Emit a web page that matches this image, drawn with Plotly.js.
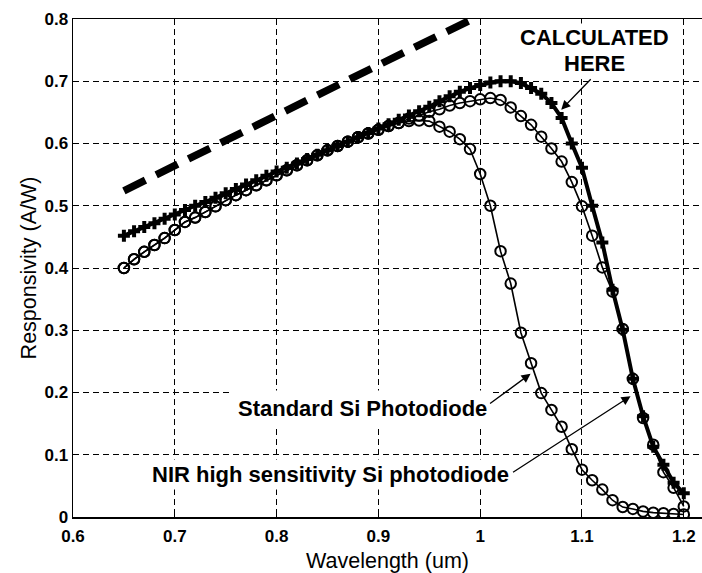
<!DOCTYPE html>
<html>
<head>
<meta charset="utf-8">
<script src="https://cdn.plot.ly/plotly-3.0.1.min.js"></script>
<style>html,body{margin:0;padding:0;background:#fff;}#chart{width:702px;height:573px;}</style>
</head>
<body>
<div id="chart"></div>
<script>
// Wavelength grid (um)
const wavelength = [0.65,0.66,0.67,0.68,0.69,0.70,0.71,0.72,0.73,0.74,0.75,0.76,0.77,0.78,0.79,0.80,0.81,0.82,0.83,0.84,0.85,0.86,0.87,0.88,0.89,0.90,0.91,0.92,0.93,0.94,0.95,0.96,0.97,0.98,0.99,1.00,1.01,1.02,1.03,1.04,1.05,1.06,1.07,1.08,1.09,1.10,1.11,1.12,1.13,1.14,1.15,1.16,1.17,1.18,1.19,1.20];

// Ideal responsivity (dashed)
const idealWl = [0.65,0.70,0.75,0.80,0.85,0.90,0.95,0.99];
const idealR  = [0.524,0.565,0.605,0.645,0.686,0.726,0.766,0.798];

// Calculated here
const calcR = [0.452,0.459,0.466,0.472,0.479,0.486,0.493,0.500,0.506,0.513,0.520,0.527,0.534,0.541,0.548,0.555,0.561,0.568,0.575,0.582,0.589,0.596,0.603,0.610,0.617,0.624,0.631,0.638,0.645,0.652,0.659,0.668,0.676,0.683,0.689,0.694,0.698,0.700,0.700,0.697,0.689,0.680,0.665,0.641,0.600,0.561,0.500,0.441,0.365,0.301,0.222,0.162,0.113,0.084,0.055,0.038];

// Standard Si photodiode
const standardR = [0.400,0.414,0.426,0.437,0.448,0.461,0.474,0.481,0.490,0.499,0.509,0.517,0.525,0.533,0.541,0.549,0.557,0.565,0.573,0.581,0.589,0.596,0.603,0.610,0.616,0.622,0.628,0.633,0.636,0.637,0.636,0.627,0.619,0.607,0.591,0.551,0.500,0.427,0.375,0.296,0.247,0.199,0.172,0.145,0.109,0.076,0.059,0.044,0.027,0.016,0.013,0.009,0.007,0.006,0.005,0.004];

// NIR high sensitivity Si photodiode
const nirR = [0.400,0.414,0.426,0.437,0.448,0.461,0.474,0.481,0.490,0.499,0.509,0.517,0.525,0.533,0.541,0.549,0.557,0.565,0.573,0.581,0.589,0.596,0.603,0.610,0.616,0.622,0.628,0.633,0.640,0.645,0.651,0.655,0.661,0.665,0.668,0.671,0.673,0.670,0.658,0.644,0.630,0.611,0.592,0.571,0.538,0.499,0.452,0.401,0.362,0.302,0.222,0.159,0.116,0.072,0.047,0.017];

const xTickVals = [0.6,0.7,0.8,0.9,1.0,1.1,1.2];
const xTickText = ["0.6","0.7","0.8","0.9","1","1.1","1.2"];
const yTickVals = [0,0.1,0.2,0.3,0.4,0.5,0.6,0.7,0.8];
const yTickText = ["0","0.1","0.2","0.3","0.4","0.5","0.6","0.7","0.8"];

const FONT = "Liberation Sans, Arial, Helvetica, sans-serif";

const traces = [
  {x: idealWl, y: idealR, mode: "lines", line: {color: "#000", width: 7.5, dash: "24px,12px"}, hoverinfo: "skip"},
  {x: wavelength, y: standardR, mode: "lines+markers", line: {color: "#000", width: 1.6},
   marker: {symbol: "circle-open", size: 10.5, color: "#000", line: {width: 2, color: "#000"}}},
  {x: wavelength, y: nirR, mode: "lines+markers", line: {color: "#000", width: 1.6},
   marker: {symbol: "circle-open", size: 10.5, color: "#000", line: {width: 2, color: "#000"}}},
  {x: wavelength, y: calcR, mode: "lines+markers", line: {color: "#000", width: 4},
   marker: {symbol: "cross", size: 10, color: "#000"}}
];

const labelFont = {family: FONT, size: 22, color: "#000", weight: "bold"};
const arrowFont = {family: FONT, size: 1, color: "#000"};

const layout = {
  width: 702, height: 573,
  margin: {l: 73, r: 0, t: 19, b: 56},
  paper_bgcolor: "#fff", plot_bgcolor: "#fff",
  showlegend: false,
  xaxis: {
    range: [0.6, 1.2179], tickvals: xTickVals, ticktext: xTickText,
    showgrid: true, gridcolor: "#000", gridwidth: 1, griddash: "6px,4px",
    zeroline: false, showline: true, linecolor: "#000", linewidth: 1.5, mirror: true,
    ticks: "inside", ticklen: 5, tickcolor: "#000", ticklabelstandoff: 3,
    tickfont: {family: FONT, size: 17, color: "#000", weight: "bold"},
    title: {text: "Wavelength (um)", font: {family: FONT, size: 21.5, color: "#000"}, standoff: 10}
  },
  yaxis: {
    range: [0, 0.8], tickvals: yTickVals, ticktext: yTickText,
    showgrid: true, gridcolor: "#000", gridwidth: 1, griddash: "6px,4px",
    zeroline: false, showline: true, linecolor: "#000", linewidth: 1.5, mirror: false,
    ticks: "inside", ticklen: 5, tickcolor: "#000",
    tickfont: {family: FONT, size: 17, color: "#000", weight: "bold"},
    title: {text: "Responsivity (A/W)", font: {family: FONT, size: 21.5, color: "#000"}, standoff: 2}
  },
  annotations: [
    {x: 1.1123, y: 0.7705, xref: "x", yref: "y", text: "CALCULATED", showarrow: false, font: labelFont, bgcolor: "#fff"},
    {x: 1.1123, y: 0.729, xref: "x", yref: "y", text: "HERE", showarrow: false, font: labelFont, bgcolor: "#fff"},
    {x: 0.8847, y: 0.174, xref: "x", yref: "y", text: "Standard Si Photodiode", showarrow: false, font: labelFont, bgcolor: "#fff", borderpad: 5},
    {x: 0.853, y: 0.068, xref: "x", yref: "y", text: "NIR high sensitivity Si photodiode", showarrow: false, font: labelFont, bgcolor: "#fff", borderpad: 2},
    {x: 1.0796, y: 0.6543, xref: "x", yref: "y", text: " ", font: arrowFont, showarrow: true, ax: 31, ay: -32, arrowhead: 2, arrowsize: 1.4, arrowwidth: 1.3, arrowcolor: "#000"},
    {x: 1.0495, y: 0.2302, xref: "x", yref: "y", text: " ", font: arrowFont, showarrow: true, ax: -42, ay: 31, arrowhead: 2, arrowsize: 1.4, arrowwidth: 1.3, arrowcolor: "#000"},
    {x: 1.1477, y: 0.194, xref: "x", yref: "y", text: " ", font: arrowFont, showarrow: true, ax: -119, ay: 77, arrowhead: 2, arrowsize: 1.4, arrowwidth: 1.3, arrowcolor: "#000"}
  ]
};

Plotly.newPlot("chart", traces, layout, {displayModeBar: false, staticPlot: true});
</script>
</body>
</html>
